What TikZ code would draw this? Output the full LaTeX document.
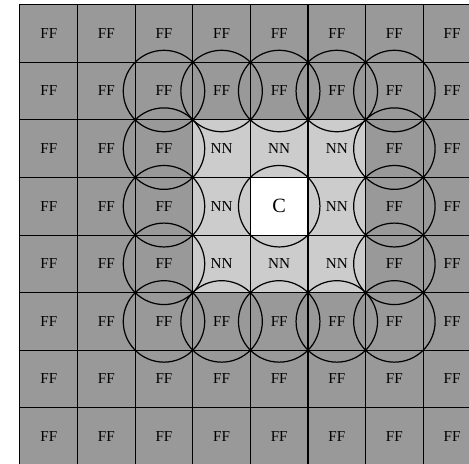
\documentclass[tikz,border=0pt]{standalone}
\usepackage{fontspec}
\setmainfont{Liberation Serif}

\begin{document}
\begin{tikzpicture}[
  cell/.style={draw, line width=0.5pt, minimum size=1cm, inner sep=0pt, font=\fontsize{7.5}{9}\selectfont},
  cellf/.style={cell, fill=black!40},
  celln/.style={cell, fill=black!20},
  cellc/.style={cell, fill=white, font=\fontsize{10}{12}\selectfont},
  ring/.style={draw, circle, line width=0.6pt, minimum size=1.4142cm, inner sep=0pt}
]
\useasboundingbox (-0.347,0.08) rectangle (7.795,-7.958);

% cells: centre C, its neighbours NN, the rest FF
\foreach \i in {0,...,7}
  \foreach \j in {0,...,7} {
    \pgfmathtruncatemacro{\d}{max(abs(\i-4),abs(\j-3))}
    \ifnum\d=0
      \node[cellc] (c-\i-\j) at (\i+0.5,-\j-0.5) {C};
    \else\ifnum\d=1
      \node[celln] (c-\i-\j) at (\i+0.5,-\j-0.5) {NN};
    \else
      \node[cellf] (c-\i-\j) at (\i+0.5,-\j-0.5) {FF};
    \fi\fi
  }

% circles round the centre and the outer ring
\node[ring] (o-4-3) at (c-4-3) {};
\foreach \i in {2,...,6}
  \foreach \j in {1,...,5} {
    \pgfmathtruncatemacro{\d}{max(abs(\i-4),abs(\j-3))}
    \ifnum\d=2
      \node[ring] (o-\i-\j) at (c-\i-\j) {};
    \fi
  }
\end{tikzpicture}
\end{document}
